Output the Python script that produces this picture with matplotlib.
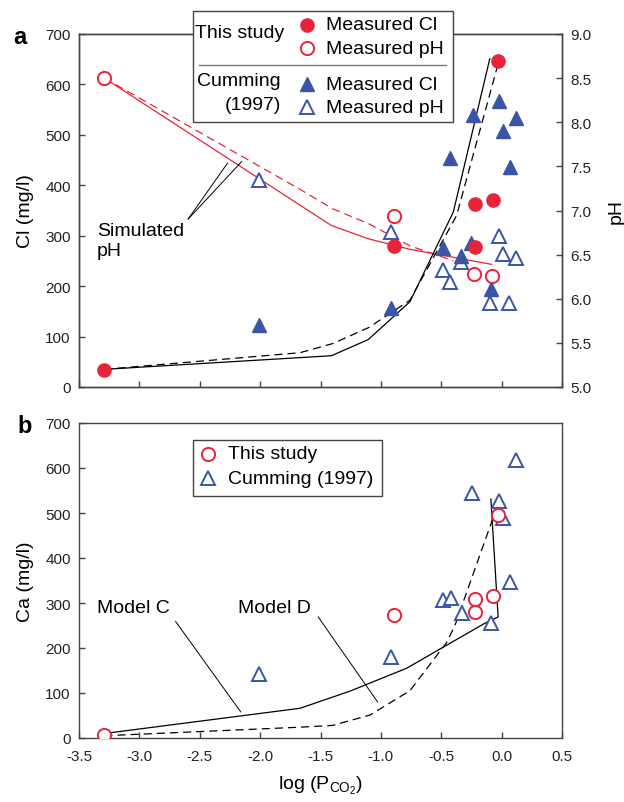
import numpy as np
import matplotlib
matplotlib.use("Agg")
import matplotlib.pyplot as plt
from matplotlib.lines import Line2D
from matplotlib.patches import Rectangle

plt.rcParams['font.family'] = ['Liberation Sans', 'DejaVu Sans']
plt.rcParams['mathtext.fontset'] = 'custom'
plt.rcParams['mathtext.rm'] = 'Liberation Sans'
plt.rcParams['mathtext.it'] = 'Liberation Sans'

RED = '#e8243a'
BLUE = '#3a55a8'
AX = '#444444'

# this study: Cl and Ca samples
ts_x = [-3.29, -0.89, -0.22, -0.22, -0.075, -0.027]
ts_cl = [33, 280, 363, 278, 371, 647]
ts_ca = [7, 274, 309, 279, 315, 495]
# this study: pH
ts_ph_x = [-3.29, -0.89, -0.23, -0.076]
ts_ph = [8.50, 6.94, 6.28, 6.26]

# Cumming (1997)
cu_cl_x = [-2.01, -0.92, -0.43, -0.24, -0.02, 0.115, 0.013, 0.068, -0.484, -0.338, -0.25, -0.092]
cu_cl = [122, 156, 454, 540, 568, 533, 507, 437, 275, 260, 285, 194]
cu_ph_x = [-2.01, -0.92, -0.484, -0.429, -0.338, -0.098, -0.023, 0.013, 0.115, 0.060]
cu_ph = [7.34, 6.76, 6.33, 6.19, 6.42, 5.95, 6.71, 6.51, 6.46, 5.95]
cu_ca_x = [-2.01, -0.92, -0.484, -0.423, -0.332, -0.244, -0.023, 0.013, 0.118, 0.068, -0.092]
cu_ca = [142, 179, 307, 312, 277, 544, 527, 488, 618, 347, 255]

# simulated Cl and pH
simc_x = [-3.29, -1.41, -1.105, -0.76, -0.40, -0.098]
simc_cl = [35, 62, 94, 169, 347, 651]
simd_x = [-3.29, -1.67, -1.40, -1.10, -0.76, -0.373, -0.037]
simd_cl = [35, 68, 86, 118, 172, 340, 634]
phc_x = [-3.29, -1.41, -1.105, -0.76, -0.40, -0.084]
phc = [8.5, 6.83, 6.68, 6.56, 6.47, 6.39]
phd_x = [-3.29, -1.67, -1.40, -1.10, -0.76, -0.40]
phd = [8.5, 7.24, 7.02, 6.85, 6.60, 6.43]

# simulated Ca, models C and D
mc_x = [-3.29, -1.67, -1.257, -0.787, -0.139, -0.029, -0.089]
mc_ca = [10, 66, 104, 155, 255, 269, 531]
md_x = [-3.29, -1.67, -1.40, -1.09, -0.76, -0.456, -0.387, -0.07]
md_ca = [5, 24, 28, 51, 105, 212, 250, 490]

xticks = np.arange(-3.5, 0.51, 0.5)

W, H = 624, 803
fig = plt.figure(figsize=(W / 100, H / 100), dpi=100)


def px(x, y):
    return x / W, 1 - y / H


def style(ax):
    for s in ax.spines.values():
        s.set_color(AX)
        s.set_linewidth(1.0)
    ax.tick_params(direction='in', length=4, width=1.0, color=AX,
                   labelsize=11, labelcolor='#222222', pad=6)


ms_c = 9.5
ms_t = 10
mew = 1.4
dash = (6.5, 4)

# ---- panel a ----
ax = fig.add_axes([79 / W, 1 - 388 / H, 483 / W, 353 / H])
ax2 = ax.twinx()
ax.set_zorder(ax2.get_zorder() + 1)
ax.patch.set_visible(False)

ax.plot(simc_x, simc_cl, color='black', lw=0.9, zorder=2)
ax.plot(simd_x, simd_cl, color='black', lw=0.9, dashes=dash, zorder=2)
ax2.plot(phc_x, phc, color=RED, lw=0.9)
ax2.plot(phd_x, phd, color=RED, lw=0.9, dashes=dash)

ax2.plot(cu_ph_x, cu_ph, ls='none', marker='^', ms=ms_t, mfc='white', mec=BLUE, mew=mew)
ax2.plot(ts_ph_x, ts_ph, ls='none', marker='o', ms=ms_c, mfc='white', mec=RED, mew=mew)
ax.plot(cu_cl_x, cu_cl, ls='none', marker='^', ms=ms_t, color=BLUE, zorder=3)
ax.plot(ts_x, ts_cl, ls='none', marker='o', ms=ms_c, color=RED, zorder=4)

ax.set_xlim(-3.5, 0.5)
ax.set_ylim(0, 700)
ax2.set_ylim(5, 9)
ax.set_xticks(xticks)
ax.set_xticklabels([])
ax.set_yticks(range(0, 701, 100))
ax2.set_yticks(np.arange(5, 9.01, 0.5))
ax2.set_yticklabels(['%.1f' % v for v in np.arange(5, 9.01, 0.5)])
style(ax)
style(ax2)
ax.set_ylabel('Cl (mg/l)', fontsize=14, labelpad=8)
ax2.set_ylabel('pH', fontsize=14, labelpad=12)

ax.text(-3.35, 291, 'Simulated\npH', fontsize=14, va='center', ha='left')
ax.plot([-2.596, -2.27], [333, 444], color='black', lw=0.7)
ax.plot([-2.596, -2.153], [333, 447], color='black', lw=0.7)

# ---- panel b ----
bx = fig.add_axes([79 / W, 1 - 739 / H, 483 / W, 315 / H])
bx.plot(mc_x, mc_ca, color='black', lw=0.9, zorder=2)
bx.plot(md_x, md_ca, color='black', lw=0.9, dashes=dash, zorder=2)
bx.plot(cu_ca_x, cu_ca, ls='none', marker='^', ms=ms_t, mfc='white', mec=BLUE, mew=mew, zorder=3)
bx.plot(ts_x, ts_ca, ls='none', marker='o', ms=ms_c, mfc='white', mec=RED, mew=mew, zorder=4)
bx.set_xlim(-3.5, 0.5)
bx.set_ylim(0, 700)
bx.set_xticks(xticks)
bx.set_xticklabels(['%.1f' % v for v in xticks])
bx.set_yticks(range(0, 701, 100))
style(bx)
bx.tick_params(axis='x', pad=8)
bx.set_ylabel('Ca (mg/l)', fontsize=14, labelpad=8)
bx.set_xlabel(r'log (P$_{\mathrm{CO}_2}$)', fontsize=14, labelpad=8)

bx.text(-3.354, 291, 'Model C', fontsize=14, va='center', ha='left')
bx.plot([-2.70, -2.161], [259, 58], color='black', lw=0.7)
bx.text(-2.181, 291, 'Model D', fontsize=14, va='center', ha='left')
bx.plot([-1.519, -1.027], [269, 80], color='black', lw=0.7)

# panel letters
fig.text(*px(13, 37), 'a', fontsize=17, fontweight='bold', va='center')
fig.text(*px(17, 427), 'b', fontsize=17, fontweight='bold', va='center')

# ---- legend, panel a ----
x0, y0 = px(193.3, 122.7)
x1, y1 = px(453.3, 11.7)
fig.add_artist(Rectangle((x0, y0), x1 - x0, y1 - y0, transform=fig.transFigure,
                         facecolor='white', edgecolor=AX, lw=1.0, zorder=10))
fig.add_artist(Line2D([199 / W, 446 / W], [1 - 65.7 / H] * 2, transform=fig.transFigure,
                      color='#777777', lw=1.0, zorder=11))
fig.text(*px(195, 33), 'This study', fontsize=14, va='center', ha='left', zorder=11)
fig.text(*px(281, 81.7), 'Cumming', fontsize=14, va='center', ha='right', zorder=11)
fig.text(*px(281, 106), '(1997)', fontsize=14, va='center', ha='right', zorder=11)
leg_rows = [
    (25.7, dict(marker='o', ms=ms_c, color=RED), 'Measured Cl'),
    (49.3, dict(marker='o', ms=ms_c, mfc='white', mec=RED, mew=mew), 'Measured pH'),
    (85.0, dict(marker='^', ms=ms_t, color=BLUE), 'Measured Cl'),
    (108.3, dict(marker='^', ms=ms_t, mfc='white', mec=BLUE, mew=mew), 'Measured pH'),
]
for yy, kw, lab in leg_rows:
    fig.add_artist(Line2D([307.3 / W], [1 - yy / H], transform=fig.transFigure,
                          ls='none', zorder=11, **kw))
    fig.text(*px(325.7, yy), lab, fontsize=14, va='center', ha='left', zorder=11)

# ---- legend, panel b ----
x0, y0 = px(192.7, 497.3)
x1, y1 = px(381.7, 441)
fig.add_artist(Rectangle((x0, y0), x1 - x0, y1 - y0, transform=fig.transFigure,
                         facecolor='white', edgecolor=AX, lw=1.0, zorder=10))
for yy, kw, lab in [
    (455, dict(marker='o', ms=ms_c, mfc='white', mec=RED, mew=mew), 'This study'),
    (479, dict(marker='^', ms=ms_t, mfc='white', mec=BLUE, mew=mew), 'Cumming (1997)'),
]:
    fig.add_artist(Line2D([208.3 / W], [1 - yy / H], transform=fig.transFigure,
                          ls='none', zorder=11, **kw))
    fig.text(*px(227.7, yy), lab, fontsize=14, va='center', ha='left', zorder=11)

fig.savefig('out.png', dpi=100)
